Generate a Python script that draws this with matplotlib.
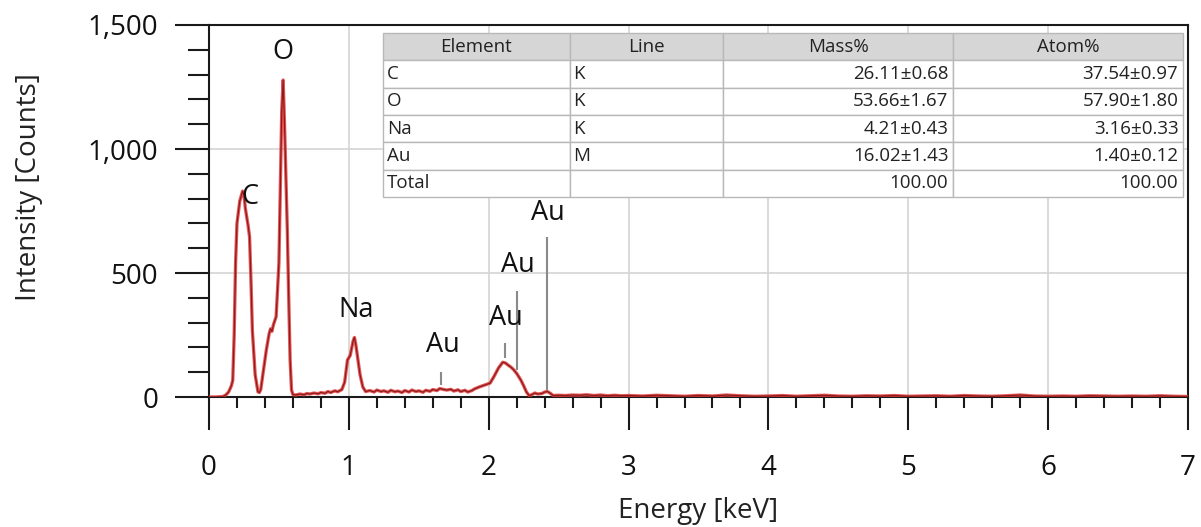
import matplotlib
matplotlib.use("Agg")
import matplotlib.pyplot as plt
from matplotlib.ticker import MultipleLocator, FuncFormatter

plt.rcParams['font.family'] = ['Open Sans', 'DejaVu Sans']

# EDS spectrum (keV, counts)
energy = [0.00, 0.05, 0.10, 0.12, 0.14, 0.16, 0.17, 0.18, 0.19, 0.20,
          0.22, 0.24, 0.25, 0.26, 0.28, 0.29, 0.30, 0.31, 0.33, 0.35,
          0.36, 0.37, 0.39, 0.41, 0.43, 0.44, 0.45, 0.46, 0.48, 0.50,
          0.51, 0.52, 0.53, 0.54, 0.55, 0.56, 0.57, 0.58, 0.59, 0.60,
          0.62, 0.65, 0.68, 0.70, 0.72, 0.75, 0.78, 0.80, 0.83, 0.85,
          0.87, 0.90, 0.92, 0.95, 0.97, 0.99, 1.01, 1.03, 1.04, 1.05,
          1.06, 1.08, 1.10, 1.12, 1.15, 1.18, 1.20, 1.23, 1.25, 1.28,
          1.30, 1.33, 1.35, 1.38, 1.40, 1.43, 1.45, 1.48, 1.50, 1.53,
          1.55, 1.58, 1.60, 1.63, 1.65, 1.68, 1.70, 1.73, 1.75, 1.78,
          1.80, 1.83, 1.85, 1.88, 1.90, 1.93, 1.95, 1.98, 2.01, 2.04,
          2.07, 2.10, 2.12, 2.14, 2.16, 2.18, 2.20, 2.23, 2.25, 2.27,
          2.29, 2.31, 2.33, 2.35, 2.38, 2.40, 2.42, 2.44, 2.46, 2.50,
          2.55, 2.60, 2.65, 2.70, 2.75, 2.80, 2.85, 2.90, 2.95, 3.00,
          3.1, 3.2, 3.3, 3.4, 3.5, 3.6, 3.7, 3.8, 3.9, 4.0,
          4.1, 4.2, 4.3, 4.4, 4.5, 4.6, 4.7, 4.8, 4.9, 5.0,
          5.1, 5.2, 5.3, 5.4, 5.5, 5.6, 5.7, 5.8, 5.9, 6.0,
          6.1, 6.2, 6.3, 6.4, 6.5, 6.6, 6.7, 6.8, 6.9, 7.0]
counts = [0, 0, 2, 8, 20, 45, 68, 250, 540, 700,
          790, 830, 815, 760, 690, 646, 470, 270, 90, 21,
          18, 30, 110, 190, 255, 275, 265, 290, 324, 540,
          850, 1150, 1278, 1100, 880, 673, 400, 150, 28, 10,
          8, 12, 9, 14, 12, 16, 13, 18, 15, 22,
          18, 25, 21, 30, 60, 149, 168, 225, 240, 210,
          170, 90, 40, 22, 26, 20, 28, 22, 25, 19,
          27, 21, 24, 18, 26, 20, 28, 22, 25, 19,
          27, 23, 30, 26, 34, 30, 28, 31, 24, 29,
          22, 27, 20, 26, 33, 40, 44, 50, 56, 85,
          117, 140, 137, 128, 120, 109, 95, 68, 45, 20,
          5, 10, 16, 12, 14, 20, 22, 15, 6, 7,
          6, 8, 7, 9, 6, 8, 5, 7, 5, 6,
          4, 7, 5, 3, 6, 4, 8, 5, 3, 4,
          6, 3, 5, 7, 4, 3, 5, 4, 6, 3,
          4, 5, 3, 6, 4, 3, 5, 8, 4, 3,
          4, 3, 5, 4, 3, 4, 3, 5, 3, 2]

# peak labels
peak_names = ['C', 'O', 'Na', 'Au', 'Au', 'Au', 'Au']
peak_x = [0.29, 0.53, 1.05, 1.67, 2.12, 2.205, 2.42]
peak_y = [806, 1392, 351, 210, 318, 532, 742]

# Au marker lines
marker_x = [1.66, 2.12, 2.205, 2.42]
marker_lo = [48, 157, 109, 28]
marker_hi = [102, 218, 429, 645]

# quantification table
col_labels = ['Element', 'Line', 'Mass%', 'Atom%']
elements = ['C', 'O', 'Na', 'Au', 'Total']
lines = ['K', 'K', 'K', 'M', '']
mass = ['26.11±0.68', '53.66±1.67', '4.21±0.43', '16.02±1.43', '100.00']
atom = ['37.54±0.97', '57.90±1.80', '3.16±0.33', '1.40±0.12', '100.00']

fig = plt.figure(figsize=(12.01, 5.27), dpi=100)
ax = fig.add_axes([209 / 1201, 1 - 397 / 527, 979 / 1201, 372 / 527])

ax.plot(energy, counts, color='#e23a3a', lw=2.4, alpha=0.85, zorder=4)
ax.plot(energy, counts, color='#8e1b1b', lw=0.9, zorder=5)

ax.vlines(marker_x, marker_lo, marker_hi, color='#8a8a8a', lw=1.5, zorder=3)
for name, x, y in zip(peak_names, peak_x, peak_y):
    ax.text(x, y, name, ha='center', va='center', fontsize=19.5, color='#111111', zorder=6)

ax.set_xlim(0, 7)
ax.set_ylim(0, 1500)
ax.xaxis.set_major_locator(MultipleLocator(1))
ax.xaxis.set_minor_locator(MultipleLocator(0.2))
ax.yaxis.set_major_locator(MultipleLocator(500))
ax.yaxis.set_minor_locator(MultipleLocator(100))
ax.yaxis.set_major_formatter(FuncFormatter(lambda v, p: '{:,.0f}'.format(v)))

ax.grid(True, which='major', color='#d4d4d4', lw=1.2, zorder=0)
ax.set_axisbelow(True)

for s in ax.spines.values():
    s.set_color('#1a1a1a')
    s.set_linewidth(1.5)

ax.tick_params(axis='x', which='major', direction='out', length=24, width=1.5,
               color='#1a1a1a', labelsize=20, pad=17, labelcolor='#111111')
ax.tick_params(axis='x', which='minor', direction='out', length=8, width=1.5, color='#1a1a1a')
ax.tick_params(axis='y', which='major', direction='out', length=24.5, width=1.5,
               color='#1a1a1a', labelsize=20, pad=12, labelcolor='#111111')
ax.tick_params(axis='y', which='minor', direction='out', length=15, width=1.5, color='#1a1a1a')
# only 0 and 1000 get the long ticks
for t in ax.yaxis.get_major_ticks():
    if t.get_loc() in (500, 1500):
        t.tick1line.set_markersize(15.5)

fig.text(29 / 1201, 1 - 187 / 527, 'Intensity [Counts]', rotation=90,
         ha='center', va='center', fontsize=20, color='#222222')
fig.text(698 / 1201, 1 - 511 / 527, 'Energy [keV]', ha='center', va='center',
         fontsize=20, color='#222222')

rows = [list(r) for r in zip(elements, lines, mass, atom)]
tbl = ax.table(cellText=rows, colLabels=col_labels,
               colWidths=[187, 153, 230, 230],
               bbox=[(383 - 209) / 979, (397 - 197) / 372, 800 / 979, 164 / 372],
               zorder=7)
tbl.auto_set_font_size(False)
tbl.set_fontsize(13.5)
for (r, c), cell in tbl.get_celld().items():
    cell.set_edgecolor('#b8b8b8')
    cell.set_linewidth(1.0)
    cell.PAD = 0.02
    cell.get_text().set_color('#222222')
    if r == 0:
        cell.set_facecolor('#d6d6d6')
        cell._loc = 'center'
        cell.get_text().set_ha('center')
    else:
        cell.set_facecolor('white')
        if c >= 2:
            cell._loc = 'right'
            cell.get_text().set_ha('right')
        else:
            cell._loc = 'left'
            cell.get_text().set_ha('left')

fig.savefig('out.png', dpi=100)
